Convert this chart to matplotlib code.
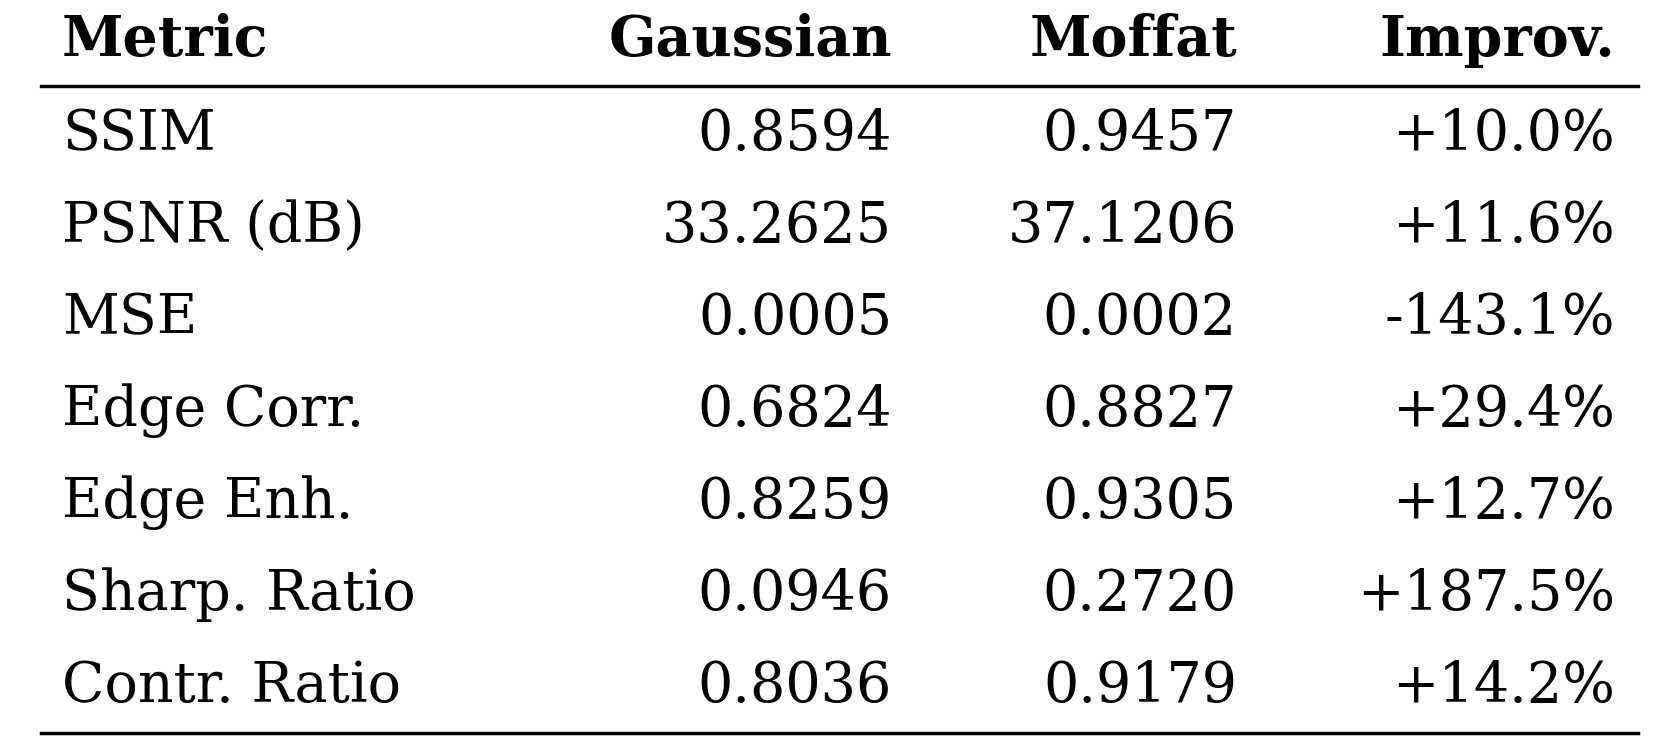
import matplotlib
matplotlib.use("Agg")
import matplotlib.pyplot as plt

headers = ["Metric", "Gaussian", "Moffat", "Improv."]
metrics = ["SSIM", "PSNR (dB)", "MSE", "Edge Corr.", "Edge Enh.", "Sharp. Ratio", "Contr. Ratio"]
gaussian = ["0.8594", "33.2625", "0.0005", "0.6824", "0.8259", "0.0946", "0.8036"]
moffat = ["0.9457", "37.1206", "0.0002", "0.8827", "0.9305", "0.2720", "0.9179"]
improv = ["+10.0%", "+11.6%", "-143.1%", "+29.4%", "+12.7%", "+187.5%", "+14.2%"]

W, H = 1670, 742
fig = plt.figure(figsize=(W/100, H/100), dpi=100)
ax = fig.add_axes([0, 0, 1, 1])
ax.set_xlim(0, W); ax.set_ylim(H, 0); ax.axis("off")
fam = ["DejaVu Serif"]
fs = 40
xs = [62, 892, 1237, 1615]
has = ["left", "right", "right", "right"]
for x, ha, h in zip(xs, has, headers):
    ax.text(x, 56, h, ha=ha, va="baseline", fontsize=fs, fontweight="bold", family=fam)
ax.plot([41, 1638], [86, 86], color="black", lw=2.5)
ax.plot([41, 1638], [733, 733], color="black", lw=2.5)
for i, row in enumerate(zip(metrics, gaussian, moffat, improv)):
    y = 150 + i * 92
    for x, ha, t in zip(xs, has, row):
        ax.text(x, y, t, ha=ha, va="baseline", fontsize=fs, family=fam)
fig.savefig("out.png", dpi=100)
